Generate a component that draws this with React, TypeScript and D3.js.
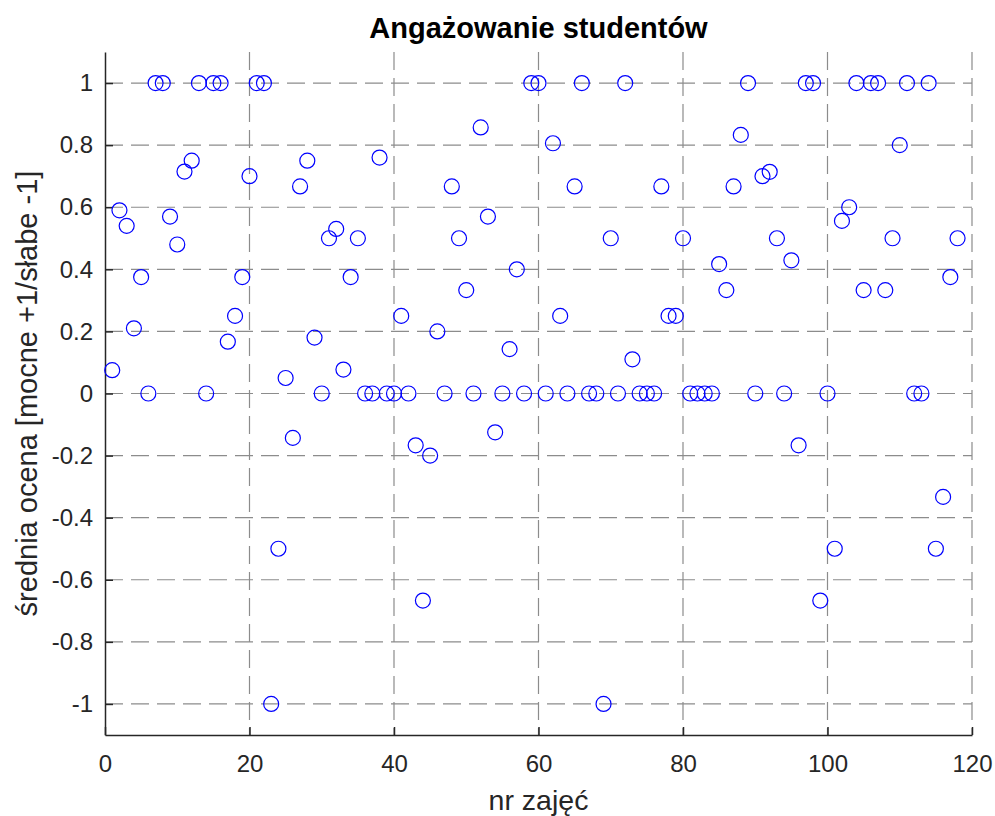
import React, { useEffect, useRef } from "react";
import * as d3 from "d3";

// srednia ocena per lesson (index 1..118)
const lessonScores = [
  0.075, 0.59, 0.54, 0.21, 0.375, 0, 1, 1, 0.57, 0.48,
  0.715, 0.75, 1, 0, 1, 1, 0.167, 0.25, 0.375, 0.7,
  1, 1, -1, -0.5, 0.05, -0.143, 0.667, 0.75, 0.18, 0,
  0.5, 0.53, 0.077, 0.375, 0.5, 0, 0, 0.76, 0, 0,
  0.25, 0, -0.167, -0.667, -0.2, 0.2, 0, 0.667, 0.5, 0.333,
  0, 0.857, 0.57, -0.125, 0, 0.143, 0.4, 0, 1, 1,
  0, 0.806, 0.25, 0, 0.667, 1, 0, 0, -1, 0.5,
  0, 1, 0.11, 0, 0, 0, 0.667, 0.25, 0.25, 0.5,
  0, 0, 0, 0, 0.417, 0.333, 0.667, 0.833, 1, 0,
  0.7, 0.714, 0.5, 0, 0.429, -0.167, 1, 1, -0.667, 0,
  -0.5, 0.556, 0.6, 1, 0.333, 1, 1, 0.333, 0.5, 0.8,
  1, 0, 0, 1, -0.5, -0.333, 0.375, 0.5,
];
const xTicks = [0, 20, 40, 60, 80, 100, 120];
const yTicks = [-1, -0.8, -0.6, -0.4, -0.2, 0, 0.2, 0.4, 0.6, 0.8, 1];

const W = 995;
const H = 816;
const margin = { top: 52, right: 23, bottom: 81, left: 105 };
const font = "'Liberation Sans', Arial, sans-serif";

export default function App() {
  const ref = useRef<SVGSVGElement>(null);

  useEffect(() => {
    const svg = d3.select(ref.current);
    svg.selectAll("*").remove();

    const iw = W - margin.left - margin.right;
    const ih = H - margin.top - margin.bottom;

    const x = d3.scaleLinear().domain([0, 120]).range([0, iw]);
    const y = d3.scaleLinear().domain([-1.1, 1.1]).range([ih, 0]);

    svg.append("rect").attr("width", W).attr("height", H).attr("fill", "#fff");

    const g = svg.append("g").attr("transform", `translate(${margin.left},${margin.top})`);

    // grid
    g.append("g")
      .selectAll("line")
      .data(xTicks.filter((t) => t > 0))
      .join("line")
      .attr("x1", (d) => x(d))
      .attr("x2", (d) => x(d))
      .attr("y1", 0)
      .attr("y2", ih)
      .attr("stroke", "#8c8c8c")
      .attr("stroke-width", 1.2)
      .attr("stroke-dasharray", "18,8");
    g.append("g")
      .selectAll("line")
      .data(yTicks)
      .join("line")
      .attr("x1", 0)
      .attr("x2", iw)
      .attr("y1", (d) => y(d))
      .attr("y2", (d) => y(d))
      .attr("stroke", "#8c8c8c")
      .attr("stroke-width", 1.2)
      .attr("stroke-dasharray", "18,8");

    // axes
    const xAxis = g
      .append("g")
      .attr("transform", `translate(0,${ih})`)
      .call(d3.axisBottom(x).tickValues(xTicks).tickSizeInner(-8).tickSizeOuter(0).tickPadding(20).tickFormat(d3.format("d")));
    const yAxis = g
      .append("g")
      .call(d3.axisLeft(y).tickValues(yTicks).tickSizeInner(-8).tickSizeOuter(0).tickPadding(12).tickFormat((d) => String(d)));

    [xAxis, yAxis].forEach((a) => {
      a.select(".domain").attr("stroke", "#262626").attr("stroke-width", 1.5);
      a.selectAll(".tick line").attr("stroke", "#262626").attr("stroke-width", 1.5);
      a.selectAll(".tick text").attr("fill", "#262626").style("font-size", "24px").style("font-family", font);
    });

    // points
    g.append("g")
      .selectAll("circle")
      .data(lessonScores)
      .join("circle")
      .attr("cx", (_, i) => x(i + 1))
      .attr("cy", (d) => y(d))
      .attr("r", 7.5)
      .attr("fill", "none")
      .attr("stroke", "#0000ff")
      .attr("stroke-width", 1.2);

    // labels
    svg.append("text")
      .attr("x", margin.left + iw / 2)
      .attr("y", 38)
      .attr("text-anchor", "middle")
      .style("font-family", font)
      .style("font-weight", "bold")
      .style("font-size", "29px")
      .text("Angażowanie studentów");

    svg.append("text")
      .attr("x", margin.left + iw / 2)
      .attr("y", 810)
      .attr("text-anchor", "middle")
      .attr("fill", "#262626")
      .style("font-family", font)
      .style("font-size", "28.5px")
      .text("nr zajęć");

    svg.append("text")
      .attr("transform", `translate(37,${margin.top + ih / 2}) rotate(-90)`)
      .attr("text-anchor", "middle")
      .attr("fill", "#262626")
      .style("font-family", font)
      .style("font-size", "29px")
      .text("średnia ocena [mocne +1/słabe -1]");
  }, []);

  return (
    <div style={{ position: "absolute", left: 0, top: 0, width: W, height: H, overflow: "hidden" }}>
      <svg ref={ref} width={W} height={H} style={{ display: "block" }} />
    </div>
  );
}
